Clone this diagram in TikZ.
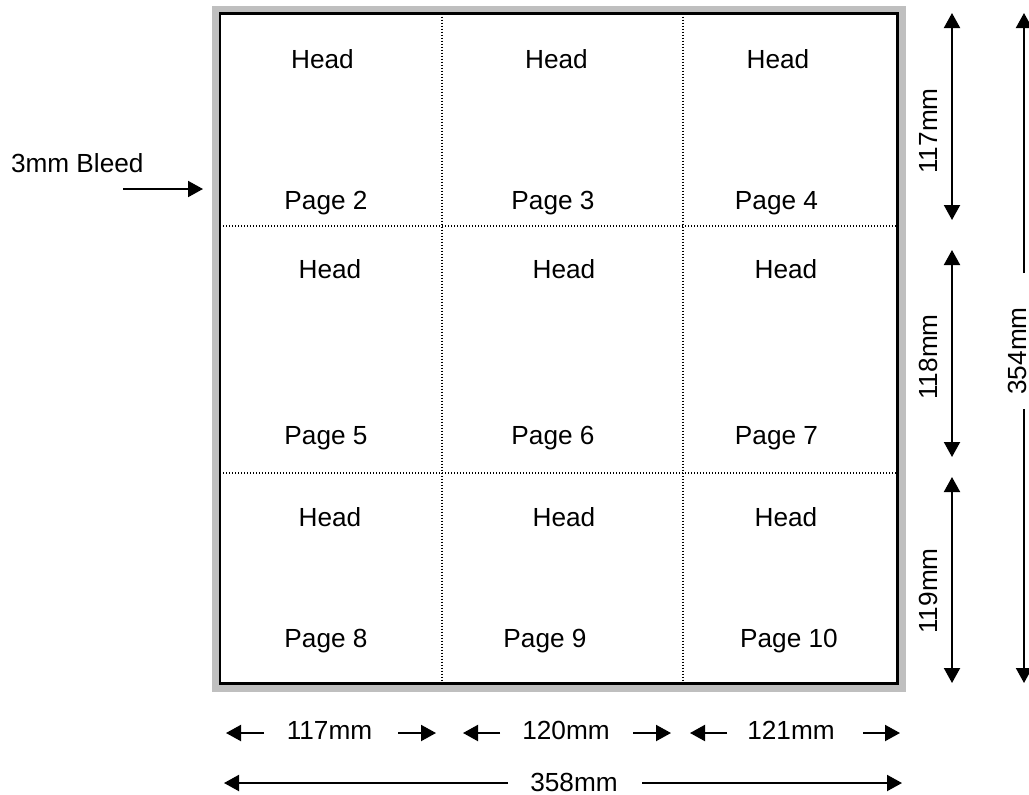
\documentclass[tikz,border=0pt]{standalone}
\usepackage{fontspec}
\setmainfont{Liberation Sans}
\usetikzlibrary{arrows.meta}

\begin{document}
\begin{tikzpicture}[x=0.5pt, y=-0.5pt, >={Triangle[length=7.5pt,width=8pt]}, line width=1pt,
    lbl/.style={inner sep=0pt, anchor=base, font=\fontsize{13.1}{15.7}\selectfont},
    vlbl/.style={lbl, rotate=90},
    fold/.style={line width=0.6pt, dash pattern=on 0.6pt off 0.9pt}]
    \useasboundingbox (0,0) rectangle (1029,794);

    % Sheet {bleed, trim, folds}
    \fill [black!25] (212,6) rectangle (906,692);
    \draw [fill=white, line width=1.2pt] (220,13.5) rectangle (897.5,683.5);
    \draw [fold] (442,13.5) -- (442,683.5);
    \draw [fold] (683,13.5) -- (683,683.5);
    \draw [fold] (220,226) -- (897.5,226);
    \draw [fold] (220,473) -- (897.5,473);

    % Nodes {head, page}
    \node [lbl] (h2)  at (322.5,68)  {Head};
    \node [lbl] (h3)  at (556.5,68)  {Head};
    \node [lbl] (h4)  at (778,68)    {Head};
    \node [lbl] (p2)  at (326,209)   {Page 2};
    \node [lbl] (p3)  at (553,209)   {Page 3};
    \node [lbl] (p4)  at (776.5,209) {Page 4};
    \node [lbl] (h5)  at (330,278)   {Head};
    \node [lbl] (h6)  at (564,278)   {Head};
    \node [lbl] (h7)  at (786,278)   {Head};
    \node [lbl] (p5)  at (326,444)   {Page 5};
    \node [lbl] (p6)  at (553,444)   {Page 6};
    \node [lbl] (p7)  at (776.5,444) {Page 7};
    \node [lbl] (h8)  at (330,526)   {Head};
    \node [lbl] (h9)  at (564,526)   {Head};
    \node [lbl] (h10) at (786,526)   {Head};
    \node [lbl] (p8)  at (326,647)   {Page 8};
    \node [lbl] (p9)  at (545,647)   {Page 9};
    \node [lbl] (p10) at (789,647)   {Page 10};

    % Nodes {bleed, dimensions}
    \node [lbl, anchor=base west] (bleed) at (10,172) {3mm Bleed};
    \node [vlbl] (d117v) at (937,131) {117mm};
    \node [vlbl] (d118v) at (937,357) {118mm};
    \node [vlbl] (d119v) at (937,591) {119mm};
    \node [vlbl] (d354)  at (1026,351) {354mm};
    \node [lbl] (d117h) at (329.5,739) {117mm};
    \node [lbl] (d120h) at (566,739)   {120mm};
    \node [lbl] (d121h) at (791,739)   {121mm};
    \node [lbl] (d358)  at (574,791)   {358mm};

    % Coordinates {arrow ends}
    \coordinate (bleedA) at (123,189);
    \coordinate (bleedB) at (203,189);
    \coordinate (r1t) at (952,13);   \coordinate (r1b) at (952,220);
    \coordinate (r2t) at (952,250);  \coordinate (r2b) at (952,457);
    \coordinate (r3t) at (952,477);  \coordinate (r3b) at (952,683);
    \coordinate (tt)  at (1024,13);  \coordinate (ta)  at (1024,273);
    \coordinate (tb)  at (1024,409); \coordinate (tbb) at (1024,683);
    \coordinate (c1l) at (226,733);  \coordinate (c1a) at (264,733);
    \coordinate (c1b) at (398,733);  \coordinate (c1r) at (436,733);
    \coordinate (c2l) at (463,733);  \coordinate (c2a) at (500,733);
    \coordinate (c2b) at (633,733);  \coordinate (c2r) at (671,733);
    \coordinate (c3l) at (690,733);  \coordinate (c3a) at (727,733);
    \coordinate (c3b) at (863,733);  \coordinate (c3r) at (900,733);
    \coordinate (wl)  at (224,783);  \coordinate (wa)  at (508,783);
    \coordinate (wb)  at (642,783);  \coordinate (wr)  at (902,783);

    % Paths
    \path [->]  (bleedA) edge (bleedB);
    \path [<->] (r1t) edge (r1b);
    \path [<->] (r2t) edge (r2b);
    \path [<->] (r3t) edge (r3b);
    \path [->]  (ta) edge (tt);
    \path [->]  (tb) edge (tbb);
    \path [->]  (c1a) edge (c1l);
    \path [->]  (c1b) edge (c1r);
    \path [->]  (c2a) edge (c2l);
    \path [->]  (c2b) edge (c2r);
    \path [->]  (c3a) edge (c3l);
    \path [->]  (c3b) edge (c3r);
    \path [->]  (wa) edge (wl);
    \path [->]  (wb) edge (wr);

\end{tikzpicture}
\end{document}
